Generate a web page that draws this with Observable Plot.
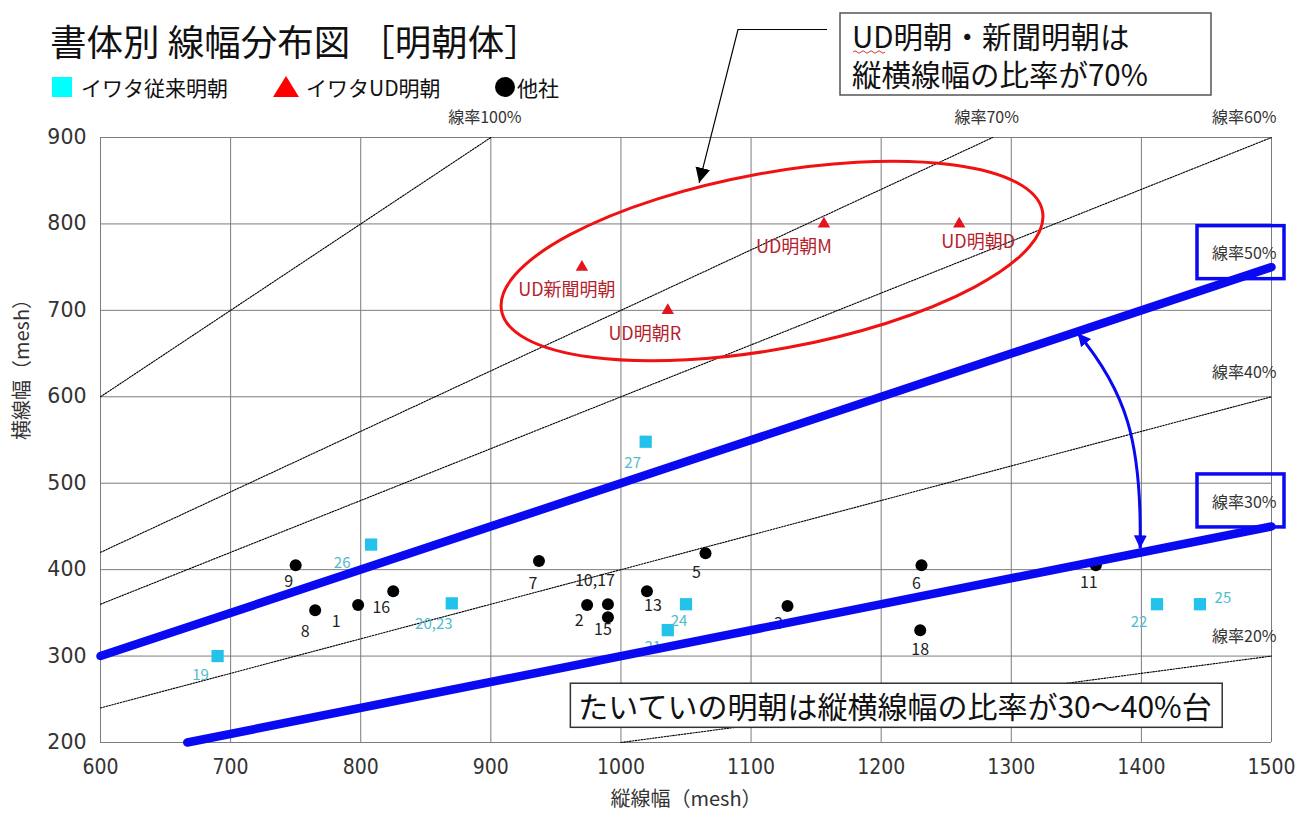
<!DOCTYPE html>
<html><head><meta charset="utf-8">
<script src="https://cdn.jsdelivr.net/npm/d3@7"></script>
<script src="https://cdn.jsdelivr.net/npm/@observablehq/plot@0.6"></script>
<style>
html,body{margin:0;padding:0;background:#fff;}
#chart{position:relative;width:1297px;height:817px;overflow:hidden;}
</style></head><body><div id="chart"></div>
<script>
// ---- data ----
const xTicks = [600, 700, 800, 900, 1000, 1100, 1200, 1300, 1400, 1500];
const yTicks = [200, 300, 400, 500, 600, 700, 800, 900];
const ratioValues = [1.0, 0.7, 0.6, 0.5, 0.4, 0.3, 0.2];
const ratioLabels = ["線率100%", "線率70%", "線率60%", "線率50%", "線率40%", "線率30%", "線率20%"];
const emphasizedRatios = [0.5, 0.3];

const tradNames = ["19", "26", "20,23", "27", "24", "21", "22", "25"];
const tradX = [690, 808, 870, 1019, 1050, 1036, 1412, 1445];
const tradY = [300, 429, 361, 548, 360, 330, 360, 360];

const udNames = ["UD新聞明朝", "UD明朝R", "UD明朝M", "UD明朝D"];
const udX = [970, 1036, 1156, 1260];
const udY = [750, 700, 800, 800];

const otherNames = ["1", "2", "3", "5", "6", "7", "8", "9", "10,17", "11", "13", "15", "16", "18"];
const otherX = [798, 974, 1128, 1065, 1231, 937, 765, 750, 990, 1365, 1020, 990, 825, 1230];
const otherY = [359, 359, 358, 419, 405, 410, 353, 405, 360, 405, 375, 345, 375, 330];

const legendLabels = ["イワタ従来明朝", "イワタUD明朝", "他社"];
const titleText = "書体別 線幅分布図 ［明朝体］";
const noteTop = ["UD明朝・新聞明朝は", "縦横線幅の比率が70%"];
const noteBottom = "たいていの明朝は縦横線幅の比率が30〜40%台";
const xLabel = "縦線幅（mesh）";
const yLabel = "横線幅（mesh）";

// ---- layout / style (not data) ----
const JP = '"Noto Sans CJK JP", "Noto Sans", sans-serif';
const CYAN = "#22c2ea", CYAN_T = "#52bccd", RED = "#e3141c", RED_T = "#b5222c", BLUE = "#0a0af2";
const labelNudge = {
  "19": [-17, 19], "26": [-29, 19], "20,23": [-18, 21], "27": [-13, 21], "24": [-7, 17], "21": [-15, 17], "22": [-18, 18], "25": [23, -6],
  "UD新聞明朝": [-15, 23], "UD明朝R": [-23, 24], "UD明朝M": [-30, 23], "UD明朝D": [19, 18],
  "1": [-22, 17], "2": [-8, 16], "3": [-9, 18], "5": [-9, 20], "6": [-5, 19], "7": [-6, 23], "8": [-10, 22], "9": [-7, 17],
  "10,17": [-13, -23], "11": [-7, 18], "13": [6, 15], "15": [-5, 13], "16": [-12, 17], "18": [0, 20]
};
const ratioLabelDy = {1: -20, 0.7: -20, 0.6: -20, 0.5: -13, 0.4: -24, 0.3: -24, 0.2: -19};

// ---- derived tables ----
const X0 = xTicks[0], X1 = xTicks[xTicks.length - 1], Y0 = yTicks[0], Y1 = yTicks[yTicks.length - 1];
const zip = (n, xs, ys) => n.map((name, i) => ({name, x: xs[i], y: ys[i]}));
const trad = zip(tradNames, tradX, tradY);
const ud = zip(udNames, udX, udY);
const others = zip(otherNames, otherX, otherY);

const segs = ratioValues.map((r, i) => ({r, label: ratioLabels[i], xa: Math.max(X0, Y0 / r), xb: Math.min(X1, Y1 / r)}));
const lineRows = segs.flatMap(s => [{r: s.r, x: s.xa, y: s.xa * s.r}, {r: s.r, x: s.xb, y: s.xb * s.r}]);
const dottedRows = lineRows.filter(d => !emphasizedRatios.includes(d.r));
const blueRows = lineRows.filter(d => emphasizedRatios.includes(d.r));

const pointLabelMarks = (rows, color, size) => rows.map(d => Plot.text([d], {
  x: "x", y: "y", text: "name", dx: labelNudge[d.name][0], dy: labelNudge[d.name][1],
  fill: color, fontSize: size, fontFamily: JP
}));

const ratioLabelMarks = segs.map(s => {
  const top = s.xb < X1;
  return Plot.text([s], {
    x: "xb", y: d => d.xb * d.r, text: "label",
    textAnchor: top ? "middle" : "end", dx: top ? -6 : 5, dy: ratioLabelDy[s.r],
    fill: "#333", fontSize: 16, fontFamily: JP
  });
});

const plot = Plot.plot({
  width: 1297, height: 817,
  marginLeft: 100, marginRight: 26, marginTop: 137, marginBottom: 75,
  style: {fontFamily: JP, background: "#fff", overflow: "visible"},
  x: {domain: [X0, X1]},
  y: {domain: [Y0, Y1]},
  marks: [
    Plot.gridX(xTicks, {stroke: "#7c7c7c", strokeOpacity: 1, strokeWidth: 1}),
    Plot.gridY(yTicks, {stroke: "#7c7c7c", strokeOpacity: 1, strokeWidth: 1}),
    Plot.line(dottedRows, {x: "x", y: "y", z: "r", stroke: "#000", strokeWidth: 1.1, strokeDasharray: "1.6,1.3"}),
    Plot.axisY(yTicks, {tickSize: 0, tickPadding: 14, fontSize: 20.5, fontFamily: "DejaVu Sans", fill: "#333", label: null, tickFormat: d => String(d)}),
    Plot.axisX(xTicks, {tickSize: 0, tickPadding: 17, fontSize: 21, fontFamily: '"Liberation Sans Narrow", "DejaVu Sans Condensed", sans-serif', fill: "#333", label: null, tickFormat: d => String(d)}),
    Plot.text([xLabel], {frameAnchor: "bottom", dy: 63, fontSize: 20, fill: "#333", fontFamily: JP}),
    Plot.text([yLabel], {frameAnchor: "left", dx: -78, rotate: -90, fontSize: 20, fill: "#333", fontFamily: JP}),
    Plot.dot(trad, {x: "x", y: "y", symbol: "square", r: 6.9, fill: CYAN}),
    Plot.dot(ud, {x: "x", y: "y", symbol: "triangle", r: 4.6, fill: RED}),
    Plot.dot(others, {x: "x", y: "y", r: 6, fill: "#000"}),
    ...pointLabelMarks(trad, CYAN_T, 15),
    ...pointLabelMarks(ud, RED_T, 18),
    ...pointLabelMarks(others, "#222", 16),
    Plot.line(blueRows, {x: "x", y: "y", z: "r", stroke: BLUE, strokeWidth: 8.5}),
    ...ratioLabelMarks
  ]
});
document.getElementById("chart").appendChild(plot);

// ---- annotations ----
const svg = d3.select(plot);
const sx = plot.scale("x"), sy = plot.scale("y");
const px = v => sx.apply(v), py = v => sy.apply(v);

const defs = svg.append("defs");
defs.append("marker").attr("id", "ahBlack").attr("viewBox", "0 0 10 10").attr("refX", 10).attr("refY", 5)
  .attr("markerWidth", 15).attr("markerHeight", 16).attr("markerUnits", "userSpaceOnUse").attr("orient", "auto")
  .append("path").attr("d", "M0,0 L10,5 L0,10 Z").attr("fill", "#000");
defs.append("marker").attr("id", "ahBlue").attr("viewBox", "0 0 10 10").attr("refX", 10).attr("refY", 5)
  .attr("markerWidth", 13).attr("markerHeight", 18).attr("markerUnits", "userSpaceOnUse").attr("orient", "auto-start-reverse")
  .append("path").attr("d", "M0,0 L10,5 L0,10 Z").attr("fill", BLUE);

const ann = svg.append("g").attr("text-anchor", "start");

// red ellipse around the UD group (center in data units)
ann.append("ellipse").attr("rx", 275).attr("ry", 88)
  .attr("transform", `translate(${px(1116.5)},${py(756.5)}) rotate(-10.4)`)
  .attr("fill", "none").attr("stroke", "#f01212").attr("stroke-width", 3);

// blue double arrow between 50% and 30% lines
ann.append("path")
  .attr("d", `M${px(1351.5)},${py(673)} C${px(1388)},${py(607)} ${px(1401)},${py(549)} ${px(1399.4)},${py(424)}`)
  .attr("fill", "none").attr("stroke", BLUE).attr("stroke-width", 3)
  .attr("marker-start", "url(#ahBlue)").attr("marker-end", "url(#ahBlue)");

// blue boxes around emphasized ratio labels
segs.filter(s => emphasizedRatios.includes(s.r)).forEach(s => {
  const cx = px(s.xb) + 5 - 37, cy = py(s.xb * s.r) + ratioLabelDy[s.r];
  ann.append("rect").attr("x", cx - 42).attr("y", cy - 28).attr("width", 87).attr("height", 53)
    .attr("fill", "none").attr("stroke", BLUE).attr("stroke-width", 3.5);
});

// top note with pointer
ann.append("polyline").attr("points", `827,29.5 738,29.5 ${px(1060.5)},${py(847)}`)
  .attr("fill", "none").attr("stroke", "#000").attr("stroke-width", 1.2).attr("marker-end", "url(#ahBlack)");
ann.append("rect").attr("x", 840).attr("y", 13).attr("width", 371).attr("height", 82)
  .attr("fill", "#fff").attr("stroke", "#555").attr("stroke-width", 1.5);
noteTop.forEach((t, i) => ann.append("text").attr("x", 852).attr("y", 35 + i * 38)
  .attr("dominant-baseline", "central").attr("font-size", 29.5).attr("font-family", JP).attr("fill", "#111").text(t));
ann.append("path").attr("d", "M853,52 q2,-2.5 4,0 t4,0 t4,0 t4,0 t4,0 t4,0 t4,0 t4,0")
  .attr("fill", "none").attr("stroke", "#e03030").attr("stroke-width", 1);

// bottom note box
const bx0 = px(961.5), bx1 = px(1462.5), by0 = py(268), by1 = py(217);
ann.append("rect").attr("x", bx0).attr("y", by0).attr("width", bx1 - bx0).attr("height", by1 - by0)
  .attr("fill", "#fff").attr("stroke", "#333").attr("stroke-width", 1.5);
ann.append("text").attr("x", bx0 + 8).attr("y", (by0 + by1) / 2).attr("dominant-baseline", "central")
  .attr("font-size", 30).attr("font-family", JP).attr("fill", "#111").text(noteBottom);

// title
ann.append("text").attr("x", 50).attr("y", 40).attr("dominant-baseline", "central")
  .attr("font-size", 36.5).attr("font-family", JP).attr("fill", "#111").text(titleText);

// legend
const lg = ann.append("g").attr("font-family", JP).attr("font-size", 21).attr("fill", "#111");
const legendY = 87;
lg.append("rect").attr("x", 52).attr("y", legendY - 10).attr("width", 20).attr("height", 20).attr("fill", "#00ffff");
lg.append("text").attr("x", 81).attr("y", legendY).attr("dominant-baseline", "central").text(legendLabels[0]);
lg.append("path").attr("d", `M286,${legendY - 11} L299,${legendY + 10} L273,${legendY + 10} Z`).attr("fill", "#ff0000");
lg.append("text").attr("x", 306).attr("y", legendY).attr("dominant-baseline", "central").text(legendLabels[1]);
lg.append("circle").attr("cx", 505).attr("cy", legendY).attr("r", 10).attr("fill", "#000");
lg.append("text").attr("x", 517).attr("y", legendY).attr("dominant-baseline", "central").text(legendLabels[2]);
</script></body></html>
